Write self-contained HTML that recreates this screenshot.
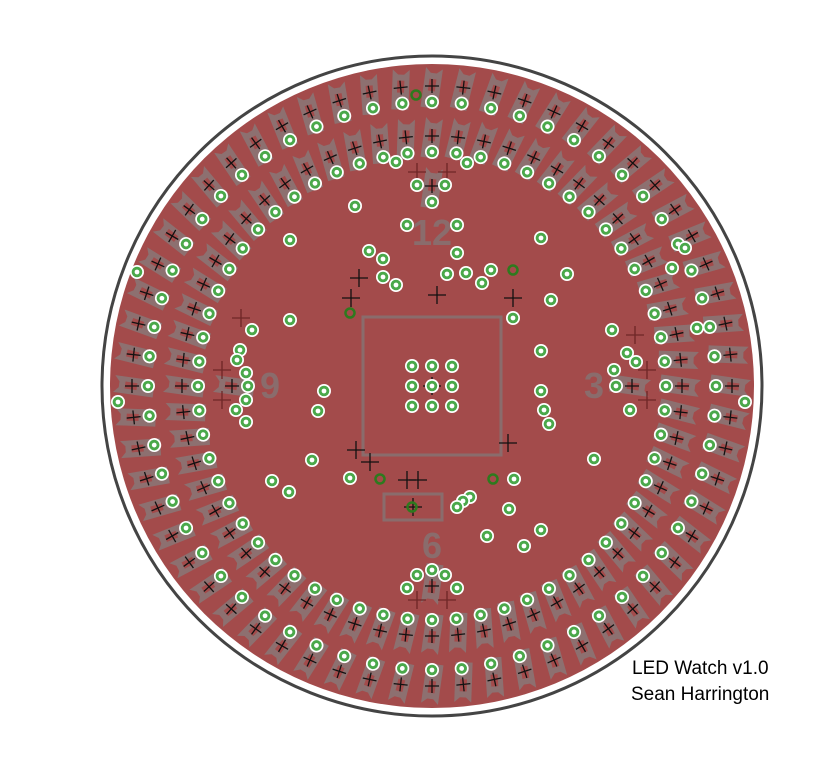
<!DOCTYPE html>
<html><head><meta charset="utf-8"><style>
html,body{margin:0;padding:0;background:#fff;width:838px;height:768px;overflow:hidden}
svg{display:block}
.lbl{font-family:"Liberation Sans",sans-serif;font-size:19px;fill:#000}
.num{font-family:"Liberation Sans",sans-serif;font-size:36px;font-weight:bold;fill:#8a6c6c}
</style></head><body>
<svg id="pcb" width="838" height="768" viewBox="0 0 838 768" xmlns="http://www.w3.org/2000/svg">
<circle cx="432" cy="386" r="330" fill="none" stroke="#444" stroke-width="3"/>
<circle cx="432" cy="386" r="322" fill="#a34b4b"/>
<g id="rings"></g>
<rect x="363" y="317" width="138" height="138" fill="none" stroke="#8a6c6c" stroke-width="3"/>
<rect x="384" y="494" width="58" height="26" fill="none" stroke="#8a6c6c" stroke-width="3"/>
<text class="num" x="432" y="245" text-anchor="middle">12</text>
<text class="num" x="594" y="398" text-anchor="middle">3</text>
<text class="num" x="432" y="558" text-anchor="middle">6</text>
<text class="num" x="270" y="398" text-anchor="middle">9</text>
<g id="extras"></g>
<text class="lbl" x="632" y="674">LED Watch v1.0</text>
<text class="lbl" x="631" y="700">Sean Harrington</text>
</svg>
<script>
const ledCount = 60;
const ringRadii = [300, 250];
const innerArcAngles = [0, 90, 180, 270];
const viaPoints = [[369,251],[383,259],[383,277],[396,285],[457,253],[447,274],[466,273],[482,283],[491,270],[551,300],[567,274],[290,240],[355,206],[407,225],[457,225],[541,238],[290,320],[252,330],[513,318],[541,351],[612,330],[627,353],[636,362],[541,391],[544,410],[549,424],[324,391],[318,411],[240,350],[237,360],[246,373],[246,400],[236,410],[246,422],[312,460],[350,478],[289,492],[272,481],[514,479],[509,509],[470,497],[463,501],[457,507],[487,536],[524,546],[541,530],[594,459],[137,272],[118,402],[745,402],[697,328],[672,268],[685,248],[614,370],[630,410],[412,366],[432,366],[452,366],[412,386],[432,386],[452,386],[412,406],[432,406],[452,406],[396,162],[467,163],[417,185],[445,185],[417,575],[445,575],[407,588],[457,588]];
const darkVias = [[513,270],[350,313],[380,479],[493,479],[416,95],[412,507]];
const redMarks = [[241,318],[222,370],[222,400],[635,335],[647,370],[647,400],[417,172],[447,172],[417,600],[447,600]];
const blackCrosses = [[437,295],[351,298],[513,298],[359,278],[356,450],[370,462],[508,443],[407,480],[418,480],[432,386],[413,507]];
const NS='http://www.w3.org/2000/svg', CX=432, CY=386;
function mk(tag,attrs,parent){const e=document.createElementNS(NS,tag);for(const k in attrs)e.setAttribute(k,attrs[k]);parent.appendChild(e);return e;}
function via(x,y,p,dark){
  const g=mk('g',{},p);
  
  
  if(dark){mk('circle',{cx:x,cy:y,r:4.5,fill:'none',stroke:'#2e7a1e','stroke-width':2.5},g);return;}
  mk('circle',{cx:x,cy:y,r:7,fill:'#fff'},g);
  mk('circle',{cx:x,cy:y,r:5.3,fill:'#4aa84a'},g);
  mk('circle',{cx:x,cy:y,r:2.4,fill:'#fff'},g);
}
function cross(x,y,p,s,col){mk('path',{d:`M${x-s} ${y}H${x+s}M${x} ${y-s}V${y+s}`,stroke:col,'stroke-width':1.3,fill:'none'},p);}
const rings=document.getElementById('rings');
function led(angle,rc){
  const g=mk('g',{transform:`rotate(${angle} ${CX} ${CY})`},rings);
  
  
  const y=CY-rc;
  const b=mk('g',{transform:`rotate(8 ${CX} ${y})`},g);
  mk('path',{d:`M${CX-8.5} ${y+22}V${y-18}L${CX-3} ${y-13}H${CX+3}L${CX+8.5} ${y-18}V${y+22}Z`,fill:'#8d7070'},b);
  mk('rect',{x:CX-3.5,y:y-7,width:7,height:12,fill:'#a34b4b'},b);
  cross(CX,y,g,7,'#111');
  via(CX,y+16,g,false);
}
for(const r of ringRadii){for(let i=0;i<ledCount;i++)led(i*360/ledCount,r);}
for(const a of innerArcAngles)led(a,200);
const ex=document.getElementById('extras');
for(const m of redMarks)cross(m[0],m[1],ex,9,'#6e2626');
for(const c of blackCrosses)cross(c[0],c[1],ex,9,'#111');
for(const v of viaPoints)via(v[0],v[1],ex,false);
for(const v of darkVias)via(v[0],v[1],ex,true);
</script>
</body></html>
